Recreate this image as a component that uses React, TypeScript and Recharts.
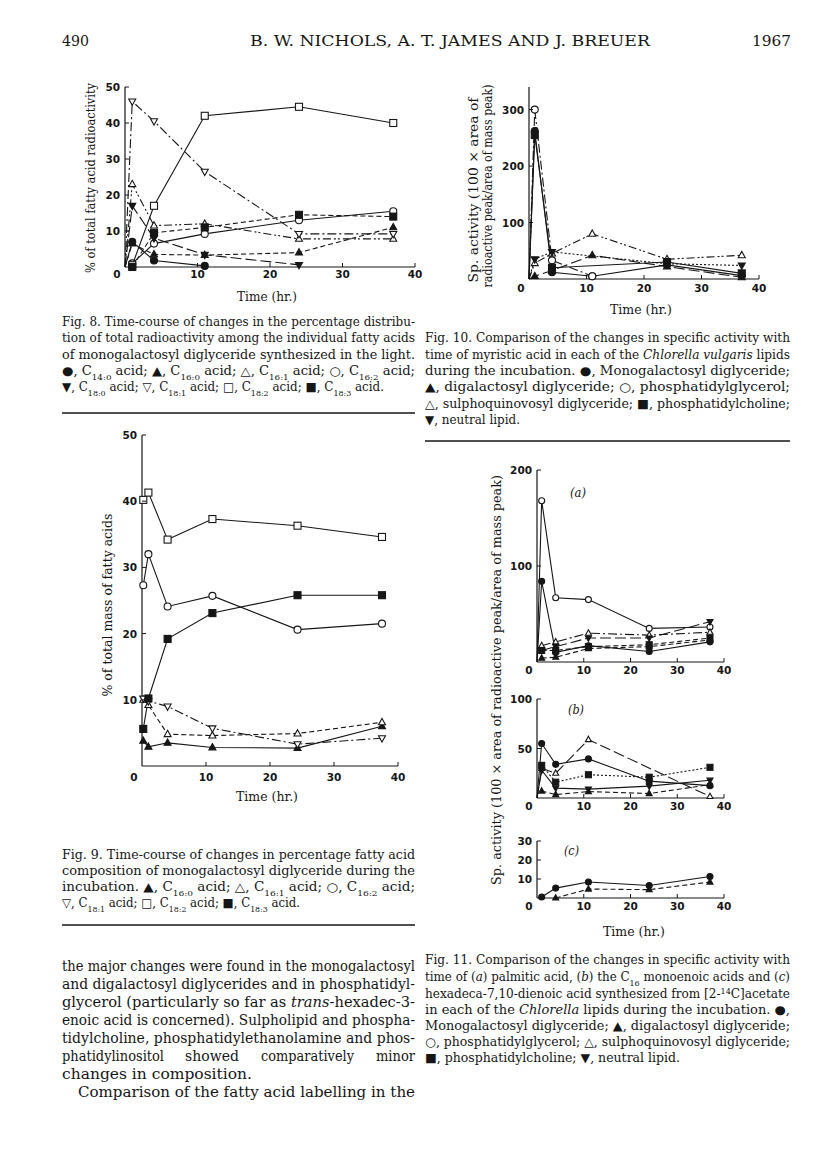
import React from 'react';
import { LineChart, Line, XAxis, YAxis } from 'recharts';

const ink = '#161616';

// Fig. 8 — % of total fatty acid radioactivity
const fig8Time = [0, 1, 4, 11, 24, 37];
const fig8C14_0 = [0, 7, 1.8, 0.3, null, null];
const fig8C16_0 = [0, 6.5, 3.5, 3.3, 4, 11];
const fig8C16_1 = [0, 23, 11.5, 12, 7.8, 7.8];
const fig8C16_2 = [null, 1, 6.5, 9.2, 13, 15.5];
const fig8C18_0 = [0, 17, 8, 3.4, 0.6, null];
const fig8C18_1 = [0, 46, 40.5, 26.5, 9.2, 9.2];
const fig8C18_2 = [null, 0.5, 17, 42, 44.5, 40];
const fig8C18_3 = [null, 0, 9.5, 11, 14.5, 14];

// Fig. 10 — myristic acid sp. activity
const fig10Time = [0, 1, 4, 11, 24, 37];
const fig10Mono = [0, 262, 12, 5, 25, 6];
const fig10Digal = [0, 5, 15, 42, 22, 3];
const fig10PG = [0, 300, 33, 5, null, null];
const fig10Sulpho = [0, 28, 45, 80, 35, 42];
const fig10PC = [0, 255, 20, null, 30, 10];
const fig10Neutral = [0, 35, 48, null, 27, 24];

// Fig. 9 — % of total mass of fatty acids
const fig9Time = [0.2, 1, 4, 11, 24.3, 37.5];
const fig9C16_0 = [3.8, 2.9, 3.5, 2.8, 2.7, 6];
const fig9C16_1 = [10, 9.2, 4.8, 4.6, 4.9, 6.6];
const fig9C16_2 = [27.3, 32, 24.1, 25.7, 20.6, 21.5];
const fig9C18_1 = [10.2, 9.8, 9, 5.7, 3.3, 4.2];
const fig9C18_2 = [40.2, 41.3, 34.2, 37.3, 36.3, 34.6];
const fig9C18_3 = [5.6, 10.2, 19.2, 23.1, 25.8, 25.8];

// Fig. 11 — (a) palmitic, (b) C16 monoenoic, (c) hexadeca-7,10-dienoic
const fig11Time = [0, 1, 4, 11, 24, 37];
const fig11aMono = [0, 84, 10, 17, 11, 21];
const fig11aDigal = [null, 4, 5, 14, 16, 23];
const fig11aPG = [0, 168, 67, 65, 35, 36.5];
const fig11aSulpho = [null, 17, 21, 30, 28, 31];
const fig11aPC = [null, 12, 12, 16, 18, 25];
const fig11aNeutral = [null, 12, 16, 25, 25, 42];
const fig11bMono = [0, 55, 34, 39.5, 17, 12.5];
const fig11bDigal = [null, 7, 3.5, 6.5, 4.5, 13.5];
const fig11bSulpho = [0, 30, 25, 59, null, 1.5];
const fig11bPC = [null, 33, 16, 23.5, 21, 31];
const fig11bNeutral = [0, 28, 10, 9, 12, 18];
const fig11cMono = [null, 0.5, 5.2, 8.4, 6.6, 11.3];
const fig11cDigal = [null, null, 0, 4.7, 4.4, 8.4];

const xTicks = [0, 10, 20, 30, 40];

type Shape = 'dot' | 'ring' | 'tri' | 'triOpen' | 'inv' | 'invOpen' | 'sq' | 'sqOpen';
type Series = { values: (number | null)[]; shape: Shape; dash?: string };

const SOLID = undefined;
const DASH = '5 3';
const LONG = '11 4';
const DOTS = '2 2';
const DASHDOT = '9 3 2 3';
const DASHDOTDOT = '8 3 2 2 2 3';

function renderMarker(p: any, shape: Shape, size: number) {
  const { cx, cy, index } = p;
  // lines rising from the origin carry no symbol there
  if (cx == null || cy == null || p.value == null || p.payload?.t === 0) return <g key={index} />;
  const r = size / 2;
  const open = shape === 'ring' || shape === 'triOpen' || shape === 'invOpen' || shape === 'sqOpen';
  const common = { fill: open ? '#fff' : ink, stroke: ink, strokeWidth: 1.1 };
  if (shape === 'dot' || shape === 'ring')
    return <circle key={index} cx={cx} cy={cy} r={r} {...common} />;
  if (shape === 'sq' || shape === 'sqOpen')
    return <rect key={index} x={cx - r} y={cy - r} width={size} height={size} {...common} />;
  const h = size * 0.9;
  const pts =
    shape === 'tri' || shape === 'triOpen'
      ? `${cx},${cy - h * 0.62} ${cx + r},${cy + h * 0.38} ${cx - r},${cy + h * 0.38}`
      : `${cx},${cy + h * 0.62} ${cx + r},${cy - h * 0.38} ${cx - r},${cy - h * 0.38}`;
  return <polygon key={index} points={pts} {...common} />;
}

const PADL = 40;
const PADT = 8;
const PADR = 8;
const PADB = 24;

type Box = { left: number; right: number; top: number; bottom: number };

function Plot({ box, time, series, yMax, yTicks, size = 7, labelDy = 13 }: {
  box: Box; time: number[]; series: Series[]; yMax: number; yTicks: number[]; size?: number; labelDy?: number;
}) {
  const rows = time.map((t, i) => {
    const row: Record<string, number | null> = { t };
    series.forEach((s, k) => { row['s' + k] = s.values[i]; });
    return row;
  });
  const w = box.right - box.left + PADL + PADR;
  const h = box.bottom - box.top + PADT + PADB;

  const XTick = (p: any) => {
    const v = p.payload.value;
    return (
      <g>
        {v !== 0 && <line x1={p.x} x2={p.x} y1={p.y} y2={p.y - 4} stroke={ink} />}
        <text x={v === 0 ? p.x - 8 : p.x} y={p.y + labelDy} textAnchor="middle" fontSize={10.5}
          fontWeight="bold" fontFamily="DejaVu Sans" fill={ink}>{v}</text>
      </g>
    );
  };
  const YTick = (p: any) => (
    <g>
      <line x1={p.x} x2={p.x + 4} y1={p.y} y2={p.y} stroke={ink} />
      <text x={p.x - 5} y={p.y + 4} textAnchor="end" fontSize={10.5} fontWeight="bold"
        fontFamily="DejaVu Sans" fill={ink}>{p.payload.value}</text>
    </g>
  );

  return (
    <div style={{ position: 'absolute', left: box.left - PADL, top: box.top - PADT, width: w, height: h }}>
      <LineChart width={w} height={h} data={rows} margin={{ top: PADT, right: PADR, bottom: 0, left: 0 }}>
        <XAxis dataKey="t" type="number" domain={[0, 40]} ticks={xTicks} interval={0} height={PADB}
          tickSize={0} tickMargin={0} tickLine={false} tick={XTick} axisLine={{ stroke: ink, strokeWidth: 1.2 }} />
        <YAxis type="number" domain={[0, yMax]} ticks={yTicks} interval={0} width={PADL}
          tickSize={0} tickMargin={0} tickLine={false} tick={YTick} axisLine={{ stroke: ink, strokeWidth: 1.2 }} />
        {series.map((s, k) => (
          <Line key={k} dataKey={'s' + k} type="linear" stroke={ink} strokeWidth={1.1} strokeDasharray={s.dash}
            connectNulls isAnimationActive={false} activeDot={false}
            dot={(p: any) => renderMarker(p, s.shape, size)} />
        ))}
      </LineChart>
    </div>
  );
}

const Sub = ({ c }: { c: string }) => <tspan fontSize={8} baselineShift="sub">{c}</tspan>;
const I = ({ c }: { c: string }) => <tspan fontStyle="italic">{c}</tspan>;

function T({ x, y, w, size = 12, anchor = 'start', rot = false, italic = false, children }: any) {
  return (
    <text x={x} y={y} fontSize={size} textLength={w} lengthAdjust="spacingAndGlyphs" textAnchor={anchor}
      fontStyle={italic ? 'italic' : undefined} transform={rot ? `rotate(-90 ${x} ${y})` : undefined}>
      {children}
    </text>
  );
}

function Page() {
  const L = 62, LW = 353, R = 425, RW = 365, B = 14.5;
  return (
    <svg width={816} height={1159} style={{ position: 'absolute', left: 0, top: 0 }}
      fontFamily="DejaVu Serif" fill={ink}>
      {/* running head */}
      <T x={L} y={46} w={27} size={15}>490</T>
      <T x={250} y={46} w={400} size={15}>B. W. NICHOLS, A. T. JAMES AND J. BREUER</T>
      <T x={752} y={46} w={39} size={15}>1967</T>

      {/* Fig. 8 */}
      <T x={95} y={178} w={190} size={13} anchor="middle" rot>% of total fatty acid radioactivity</T>
      <T x={267} y={301} w={60} size={13} anchor="middle">Time (hr.)</T>
      <T x={L} y={326} w={LW}>Fig. 8. Time-course of changes in the percentage distribu-</T>
      <T x={L} y={342} w={LW}>tion of total radioactivity among the individual fatty acids</T>
      <T x={L} y={359} w={LW}>of monogalactosyl diglyceride synthesized in the light.</T>
      <T x={L} y={375} w={LW}>●, C<Sub c="14:0" /> acid; ▲, C<Sub c="16:0" /> acid; △, C<Sub c="16:1" /> acid; ○, C<Sub c="16:2" /> acid;</T>
      <T x={L} y={391} w={322}>▼, C<Sub c="18:0" /> acid; ▽, C<Sub c="18:1" /> acid; □, C<Sub c="18:2" /> acid; ■, C<Sub c="18:3" /> acid.</T>
      <line x1={L} x2={L + LW} y1={413} y2={413} stroke={ink} strokeWidth={1.3} />

      {/* Fig. 10 */}
      <T x={478} y={190} w={185} size={13} anchor="middle" rot>Sp. activity (100 × area of</T>
      <T x={492} y={186} w={203} size={13} anchor="middle" rot>radioactive peak/area of mass peak)</T>
      <T x={641} y={314} w={62} size={13} anchor="middle">Time (hr.)</T>
      <T x={R} y={342} w={RW}>Fig. 10. Comparison of the changes in specific activity with</T>
      <T x={R} y={359} w={RW}>time of myristic acid in each of the <I c="Chlorella vulgaris" /> lipids</T>
      <T x={R} y={375} w={RW}>during the incubation. ●, Monogalactosyl diglyceride;</T>
      <T x={R} y={391} w={RW}>▲, digalactosyl diglyceride; ○, phosphatidylglycerol;</T>
      <T x={R} y={408} w={RW}>△, sulphoquinovosyl diglyceride; ■, phosphatidylcholine;</T>
      <T x={R} y={424} w={95}>▼, neutral lipid.</T>
      <line x1={R} x2={R + RW} y1={441} y2={441} stroke={ink} strokeWidth={1.3} />

      {/* Fig. 9 */}
      <T x={112} y={605} w={183} size={13} anchor="middle" rot>% of total mass of fatty acids</T>
      <T x={267} y={801} w={62} size={13} anchor="middle">Time (hr.)</T>
      <T x={L} y={859} w={LW}>Fig. 9. Time-course of changes in percentage fatty acid</T>
      <T x={L} y={875} w={LW}>composition of monogalactosyl diglyceride during the</T>
      <T x={L} y={891} w={LW}>incubation. ▲, C<Sub c="16:0" /> acid; △, C<Sub c="16:1" /> acid; ○, C<Sub c="16:2" /> acid;</T>
      <T x={L} y={907} w={238}>▽, C<Sub c="18:1" /> acid; □, C<Sub c="18:2" /> acid; ■, C<Sub c="18:3" /> acid.</T>
      <line x1={L} x2={L + LW} y1={925} y2={925} stroke={ink} strokeWidth={1.3} />

      {/* body text */}
      <T x={L} y={971} w={LW} size={B}>the major changes were found in the monogalactosyl</T>
      <T x={L} y={989} w={LW} size={B}>and digalactosyl diglycerides and in phosphatidyl-</T>
      <T x={L} y={1007} w={LW} size={B}>glycerol (particularly so far as <I c="trans" />-hexadec-3-</T>
      <T x={L} y={1025} w={LW} size={B}>enoic acid is concerned). Sulpholipid and phospha-</T>
      <T x={L} y={1043} w={LW} size={B}>tidylcholine, phosphatidylethanolamine and phos-</T>
      <T x={L} y={1061} w={102} size={B}>phatidylinositol</T>
      <T x={185} y={1061} w={54} size={B}>showed</T>
      <T x={261} y={1061} w={93} size={B}>comparatively</T>
      <T x={376} y={1061} w={39} size={B}>minor</T>
      <T x={L} y={1079} w={190} size={B}>changes in composition.</T>
      <T x={78} y={1097} w={337} size={B}>Comparison of the fatty acid labelling in the</T>

      {/* Fig. 11 */}
      <T x={501} y={680} w={410} size={13} anchor="middle" rot>Sp. activity (100 × area of radioactive peak/area of mass peak)</T>
      <T x={570} y={497} w={16} size={12} italic>(a)</T>
      <T x={568} y={714} w={16} size={12} italic>(b)</T>
      <T x={564} y={855} w={15} size={12} italic>(c)</T>
      <T x={634} y={936} w={62} size={13} anchor="middle">Time (hr.)</T>
      <T x={R} y={964} w={RW}>Fig. 11. Comparison of the changes in specific activity with</T>
      <T x={R} y={981} w={RW}>time of (<I c="a" />) palmitic acid, (<I c="b" />) the C<Sub c="16" /> monoenoic acids and (<I c="c" />)</T>
      <T x={R} y={998} w={RW}>hexadeca-7,10-dienoic acid synthesized from [2-<tspan fontSize={8} baselineShift="super">14</tspan>C]acetate</T>
      <T x={R} y={1014} w={RW}>in each of the <I c="Chlorella" /> lipids during the incubation. ●,</T>
      <T x={R} y={1030} w={RW}>Monogalactosyl diglyceride; ▲, digalactosyl diglyceride;</T>
      <T x={R} y={1046} w={RW}>○, phosphatidylglycerol; △, sulphoquinovosyl diglyceride;</T>
      <T x={R} y={1062} w={255}>■, phosphatidylcholine; ▼, neutral lipid.</T>
    </svg>
  );
}

export default function App() {
  return (
    <div style={{ position: 'absolute', left: 0, top: 0, width: 816, height: 1159, background: '#fff' }}>
      <Page />
      <Plot box={{ left: 125, right: 415, top: 87, bottom: 267 }} time={fig8Time} yMax={50}
        yTicks={[10, 20, 30, 40, 50]} labelDy={11}
        series={[
          { values: fig8C14_0, shape: 'dot', dash: SOLID },
          { values: fig8C16_0, shape: 'tri', dash: DASH },
          { values: fig8C16_1, shape: 'triOpen', dash: DASHDOTDOT },
          { values: fig8C16_2, shape: 'ring', dash: SOLID },
          { values: fig8C18_0, shape: 'inv', dash: LONG },
          { values: fig8C18_1, shape: 'invOpen', dash: DASHDOT },
          { values: fig8C18_2, shape: 'sqOpen', dash: SOLID },
          { values: fig8C18_3, shape: 'sq', dash: DASH },
        ]} />
      <Plot box={{ left: 529, right: 759, top: 87, bottom: 279 }} time={fig10Time} yMax={340}
        yTicks={[100, 200, 300]}
        series={[
          { values: fig10Mono, shape: 'dot', dash: SOLID },
          { values: fig10Digal, shape: 'tri', dash: LONG },
          { values: fig10PG, shape: 'ring', dash: DASHDOT },
          { values: fig10Sulpho, shape: 'triOpen', dash: DASHDOTDOT },
          { values: fig10PC, shape: 'sq', dash: SOLID },
          { values: fig10Neutral, shape: 'inv', dash: DOTS },
        ]} />
      <Plot box={{ left: 142, right: 398, top: 435, bottom: 766 }} time={fig9Time} yMax={50}
        yTicks={[10, 20, 30, 40, 50]} labelDy={15}
        series={[
          { values: fig9C16_0, shape: 'tri', dash: SOLID },
          { values: fig9C16_1, shape: 'triOpen', dash: DASH },
          { values: fig9C16_2, shape: 'ring', dash: SOLID },
          { values: fig9C18_1, shape: 'invOpen', dash: DASHDOT },
          { values: fig9C18_2, shape: 'sqOpen', dash: SOLID },
          { values: fig9C18_3, shape: 'sq', dash: SOLID },
        ]} />
      <Plot box={{ left: 537, right: 724, top: 470, bottom: 662 }} time={fig11Time} yMax={200}
        yTicks={[100, 200]} size={6} labelDy={12}
        series={[
          { values: fig11aMono, shape: 'dot', dash: SOLID },
          { values: fig11aDigal, shape: 'tri', dash: DASH },
          { values: fig11aPG, shape: 'ring', dash: SOLID },
          { values: fig11aSulpho, shape: 'triOpen', dash: DASHDOT },
          { values: fig11aPC, shape: 'sq', dash: DASH },
          { values: fig11aNeutral, shape: 'inv', dash: LONG },
        ]} />
      <Plot box={{ left: 537, right: 724, top: 699, bottom: 798 }} time={fig11Time} yMax={100}
        yTicks={[50, 100]} size={6} labelDy={12}
        series={[
          { values: fig11bMono, shape: 'dot', dash: SOLID },
          { values: fig11bDigal, shape: 'tri', dash: DASH },
          { values: fig11bSulpho, shape: 'triOpen', dash: LONG },
          { values: fig11bPC, shape: 'sq', dash: DOTS },
          { values: fig11bNeutral, shape: 'inv', dash: SOLID },
        ]} />
      <Plot box={{ left: 537, right: 724, top: 841, bottom: 898 }} time={fig11Time} yMax={30}
        yTicks={[10, 20, 30]} size={6} labelDy={12}
        series={[
          { values: fig11cMono, shape: 'dot', dash: SOLID },
          { values: fig11cDigal, shape: 'tri', dash: DASH },
        ]} />
    </div>
  );
}
